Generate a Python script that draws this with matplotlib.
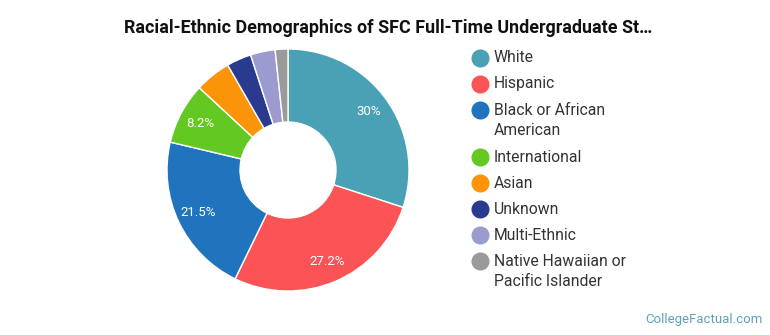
import matplotlib
matplotlib.use('Agg')
import matplotlib.pyplot as plt
from matplotlib.lines import Line2D

# data (percent of students)
groups = ['White', 'Hispanic', 'Black or African\nAmerican', 'International',
          'Asian', 'Unknown', 'Multi-Ethnic', 'Native Hawaiian or\nPacific Islander']
shares = [30, 27.2, 21.5, 8.2, 4.8, 3.3, 3.3, 1.7]
colors = ['#4aa0b5', '#fc5356', '#1f74bd', '#63c922',
          '#fb9409', '#2a3a8f', '#9c9bd0', '#9a9a9a']
title = 'Racial-Ethnic Demographics of SFC Full-Time Undergraduate St\u2026'

W, H = 770, 335
fig = plt.figure(figsize=(W / 100, H / 100), dpi=100)

def fx(px):
    return px / W

def fy(py):
    return 1 - py / H

# donut, centre (288,170) px, outer radius 121 px, inner 48 px
cx, cy, r = 288, 170, 121
ax = fig.add_axes([fx(cx - r), fy(cy + r), 2 * r / W, 2 * r / H])

def pct_label(p):
    if p < 6:
        return ''
    return ('%.1f' % p).rstrip('0').rstrip('.') + '%'

wedges, _, autotexts = ax.pie(shares, colors=colors, startangle=90, counterclock=False,
                              radius=1, autopct=pct_label, pctdistance=0.82,
                              wedgeprops=dict(width=1 - 48 / 121, edgecolor='white', linewidth=1))
for t in autotexts:
    t.set_color('white')
    t.set_fontsize(9.5)
    t.set_fontfamily('Roboto')
ax.set_xlim(-1, 1)
ax.set_ylim(-1, 1)
ax.set_aspect('equal')
ax.axis('off')

# title, fitted to ~527 px wide like the original
tt = fig.text(fx(388), fy(28), title, ha='center', va='center', fontsize=13,
              fontweight='bold', family='Roboto', color='#111111')
rend = fig.canvas.get_renderer()
w = tt.get_window_extent(rend).width
tt.set_fontsize(13 * 527 / w)

# legend
y = 58
for name, c in zip(groups, colors):
    fig.add_artist(Line2D([fx(480)], [fy(y)], marker='o', markersize=12,
                          markerfacecolor=c, markeredgecolor=c, transform=fig.transFigure))
    lines = name.split('\n')
    for i, ln in enumerate(lines):
        fig.text(fx(494), fy(y + i * 21), ln, ha='left', va='center',
                 fontsize=11.3, family='Roboto', color='#333333')
    y += 26 + (len(lines) - 1) * 21

# watermark
fig.text(fx(763), fy(320), 'CollegeFactual.com', ha='right', va='center',
         fontsize=9.5, family='Roboto', color='#5ea3b5')

fig.savefig('out.png', dpi=100)
